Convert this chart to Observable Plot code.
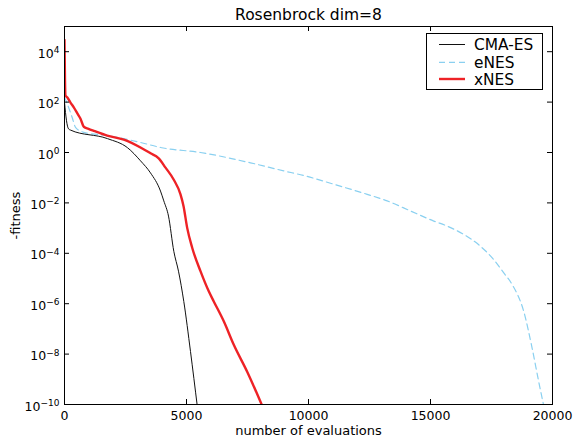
<!DOCTYPE html>
<html><head><meta charset="utf-8">
<script src="https://cdn.jsdelivr.net/npm/d3@7"></script>
<script src="https://cdn.jsdelivr.net/npm/@observablehq/plot@0.6"></script>
<style>
body{margin:0;background:#fff}
svg{font-family:"DejaVu Sans",sans-serif}
</style>
</head><body><div id="chart"></div>
<script>
// ---- data ----
const seriesNames = ["CMA-ES", "eNES", "xNES"];

const cmaX = [0, 82, 164, 246, 1762, 2582, 3115, 3525, 3934, 4070, 4262, 4480, 4672, 4889, 5164, 5440];
const cmaY = [100, 18.2, 8.7, 7.76, 3.55, 1.55, 0.468, 0.155, 0.0295, 0.012, 0.003, 1.2e-4, 1.95e-5, 1.23e-6, 1.26e-8, 8.9e-11];

const enesX = [0, 110, 315, 451, 791, 1750, 3115, 3934, 5573, 7622, 8987, 9876, 11036, 12405, 13225, 14179, 15134, 15683, 16363, 17048, 17593, 18003, 18347, 18822, 19166, 19437, 19641];
const enesY = [158, 87, 24.5, 10, 6.3, 4.7, 2.5, 1.58, 1.0, 0.39, 0.186, 0.117, 0.055, 0.0219, 0.012, 0.0048, 0.0019, 0.0012, 5.6e-4, 1.9e-4, 5.6e-5, 1.66e-5, 5.75e-6, 4.9e-7, 1.7e-8, 7.9e-10, 8.9e-11];

const xnesX = [0, 20, 41, 110, 246, 381, 533, 656, 791, 984, 1201, 1750, 2430, 3115, 3525, 3850, 4140, 4479, 4754, 4877, 5028, 5233, 5573, 5913, 6118, 6528, 6938, 7487, 8102];
const xnesY = [29500, 724, 182, 155, 95.5, 61.7, 34.7, 21.9, 10.5, 8.7, 7.24, 4.68, 3.24, 1.58, 0.93, 0.6, 0.251, 0.083, 0.0219, 0.00759, 0.00102, 1.66e-4, 1.95e-5, 3.09e-6, 1.23e-6, 2.0e-7, 2.34e-8, 2.0e-9, 8.9e-11];

const xTicks = [0, 5000, 10000, 15000, 20000];
const yTicks = [1e-10, 1e-8, 1e-6, 1e-4, 1e-2, 1, 1e2, 1e4];

// ---- layout ----
const W = 573, H = 439, mL = 64, mR = 21, mT = 26, mB = 35;
const pw = W - mL - mR, ph = H - mT - mB;

const styles = {
  "CMA-ES": {stroke: "#111111", strokeWidth: 1, dash: null},
  "eNES":   {stroke: "#8ad0f0", strokeWidth: 1.2, dash: "6,4"},
  "xNES":   {stroke: "#ee2226", strokeWidth: 2.4, dash: null}
};
const rows = [
  ...cmaX.map((x, i) => ({name: "CMA-ES", x, y: cmaY[i]})),
  ...enesX.map((x, i) => ({name: "eNES", x, y: enesY[i]})),
  ...xnesX.map((x, i) => ({name: "xNES", x, y: xnesY[i]}))
];

const fmtY = d => "10^" + Math.round(Math.log10(d));

const lineMark = name => Plot.line(rows.filter(d => d.name === name), {
  x: "x", y: "y", stroke: styles[name].stroke, strokeWidth: styles[name].strokeWidth,
  strokeDasharray: styles[name].dash, clip: true, curve: "monotone-x"
});

const plot = Plot.plot({
  width: W, height: H,
  marginLeft: mL, marginRight: mR, marginTop: mT, marginBottom: mB,
  style: {fontFamily: "DejaVu Sans", fontSize: "12.5px", background: "#fff", color: "#000", overflow: "visible"},
  x: {domain: [0, 20000]},
  y: {type: "log", domain: [1e-10, 1e5]},
  marks: [
    lineMark("eNES"),
    lineMark("CMA-ES"),
    lineMark("xNES"),
    Plot.frame({stroke: "#000", strokeWidth: 1}),
    Plot.tickX(xTicks, {x: d => d, insetTop: ph - 5, stroke: "#000"}),
    Plot.tickX(xTicks, {x: d => d, insetBottom: ph - 5, stroke: "#000"}),
    Plot.tickY(yTicks, {y: d => d, insetRight: pw - 5, stroke: "#000"}),
    Plot.tickY(yTicks, {y: d => d, insetLeft: pw - 5, stroke: "#000"}),
    Plot.axisX({ticks: xTicks, tickSize: 0, tickPadding: 7, tickFormat: d => String(d), label: null, fontSize: 12.5}),
    Plot.axisY({ticks: yTicks, tickSize: 0, tickPadding: 5, tickFormat: fmtY, label: null, fontSize: 12.5, dy: 2}),
    Plot.text(["Rosenbrock dim=8"], {frameAnchor: "top", lineAnchor: "middle", dy: -11, fontSize: 15.5}),
    Plot.text(["number of evaluations"], {frameAnchor: "bottom", lineAnchor: "middle", dy: 26, fontSize: 13}),
    Plot.text(["-fitness"], {frameAnchor: "left", textAnchor: "middle", lineAnchor: "middle", dx: -49, rotate: -90, fontSize: 13})
  ]
});

// superscripts on the y tick labels
d3.select(plot).selectAll('g[aria-label="y-axis tick label"] text').each(function() {
  const t = this.textContent;
  if (!t.startsWith("10^")) return;
  const e = t.slice(3).replace("-", "\u2212");
  const sel = d3.select(this);
  sel.text("10");
  sel.append("tspan").attr("dy", "-0.5em").attr("font-size", "9px").text(e);
});

// legend
const svg = d3.select(plot);
const lg = svg.append("g").attr("font-family", "DejaVu Sans").attr("font-size", "15.4px").attr("text-anchor", "start");
lg.append("rect").attr("x", 426.5).attr("y", 33.5).attr("width", 116).attr("height", 56)
  .attr("fill", "#fff").attr("stroke", "#000").attr("stroke-width", 1);
const rowY = [44.5, 62.3, 79];
seriesNames.forEach((n, i) => {
  const s = styles[n];
  lg.append("line").attr("x1", 439).attr("x2", 465).attr("y1", rowY[i]).attr("y2", rowY[i])
    .attr("stroke", s.stroke).attr("stroke-width", s.strokeWidth)
    .attr("stroke-dasharray", s.dash);
  lg.append("text").attr("x", 474).attr("y", rowY[i] + 5.5).attr("fill", "#000").attr("text-anchor", "start").text(n);
});

document.getElementById("chart").appendChild(plot);
</script>
</body></html>
